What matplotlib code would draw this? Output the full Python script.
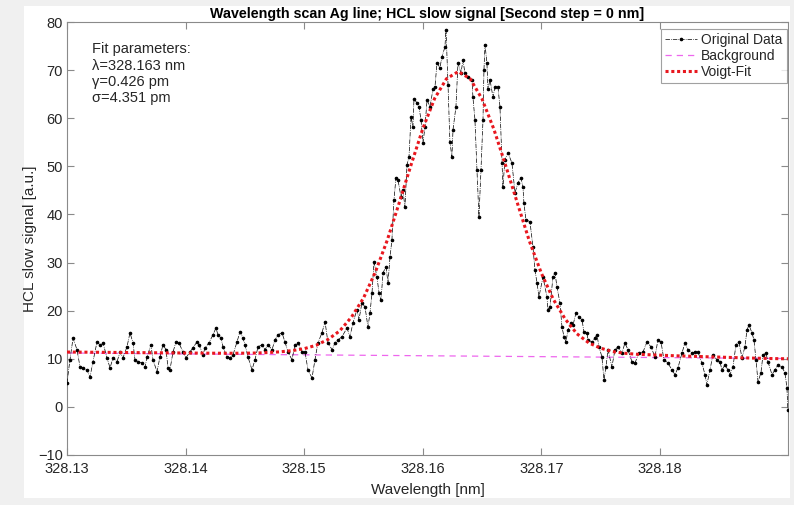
import numpy as np
import matplotlib
matplotlib.use("Agg")
import matplotlib.pyplot as plt
from matplotlib.patches import Rectangle

plt.rcParams['font.family'] = ['Liberation Sans', 'DejaVu Sans']

# ---------------- data ----------------
wavelength = [
    328.13000, 328.13025, 328.13051, 328.13084, 328.13110, 328.13135, 328.13169, 328.13194,
    328.13219, 328.13253, 328.13278, 328.13304, 328.13337, 328.13363, 328.13388, 328.13422,
    328.13447, 328.13472, 328.13506, 328.13531, 328.13557, 328.13573, 328.13599, 328.13632,
    328.13658, 328.13675, 328.13708, 328.13725, 328.13759, 328.13784, 328.13809, 328.13835,
    328.13852, 328.13868, 328.13894, 328.13919, 328.13944, 328.13978, 328.14003, 328.14037,
    328.14062, 328.14096, 328.14113, 328.14147, 328.14164, 328.14197, 328.14231, 328.14256,
    328.14273, 328.14299, 328.14315, 328.14349, 328.14374, 328.14400, 328.14433, 328.14459,
    328.14484, 328.14501, 328.14526, 328.14560, 328.14585, 328.14611, 328.14644, 328.14670,
    328.14695, 328.14729, 328.14754, 328.14779, 328.14813, 328.14838, 328.14864, 328.14897,
    328.14923, 328.14948, 328.14982, 328.15007, 328.15032, 328.15066, 328.15091, 328.15116,
    328.15150, 328.15176, 328.15201, 328.15235, 328.15260, 328.15285, 328.15319, 328.15361,
    328.15386, 328.15412, 328.15445, 328.15462, 328.15487, 328.15513, 328.15538, 328.15555,
    328.15572, 328.15589, 328.15614, 328.15631, 328.15648, 328.15665, 328.15690, 328.15707,
    328.15724, 328.15740, 328.15757, 328.15774, 328.15791, 328.15816, 328.15833, 328.15850,
    328.15867, 328.15884, 328.15901, 328.15917, 328.15926, 328.15951, 328.15968, 328.15985,
    328.16002, 328.16019, 328.16036, 328.16061, 328.16086, 328.16103, 328.16120, 328.16145,
    328.16162, 328.16187, 328.16196, 328.16213, 328.16229, 328.16246, 328.16255, 328.16280,
    328.16297, 328.16322, 328.16339, 328.16356, 328.16381, 328.16415, 328.16423, 328.16440,
    328.16457, 328.16474, 328.16491, 328.16508, 328.16516, 328.16525, 328.16541, 328.16550,
    328.16567, 328.16592, 328.16609, 328.16634, 328.16651, 328.16668, 328.16676, 328.16693,
    328.16719, 328.16752, 328.16778, 328.16803, 328.16828, 328.16845, 328.16853, 328.16870,
    328.16904, 328.16929, 328.16946, 328.16963, 328.16980, 328.17014, 328.17047, 328.17056,
    328.17073, 328.17098, 328.17115, 328.17132, 328.17157, 328.17174, 328.17191, 328.17208,
    328.17224, 328.17250, 328.17267, 328.17292, 328.17317, 328.17343, 328.17359, 328.17385,
    328.17393, 328.17427, 328.17452, 328.17469, 328.17486, 328.17511, 328.17528, 328.17545,
    328.17562, 328.17595, 328.17621, 328.17646, 328.17680, 328.17705, 328.17730, 328.17764,
    328.17789, 328.17823, 328.17857, 328.17891, 328.17924, 328.17958, 328.17983, 328.18009,
    328.18034, 328.18068, 328.18101, 328.18127, 328.18152, 328.18186, 328.18211, 328.18236,
    328.18270, 328.18295, 328.18321, 328.18354, 328.18380, 328.18396, 328.18422, 328.18447,
    328.18481, 328.18506, 328.18523, 328.18548, 328.18574, 328.18590, 328.18616, 328.18641,
    328.18666, 328.18692, 328.18717, 328.18734, 328.18751, 328.18776, 328.18793, 328.18810,
    328.18827, 328.18852, 328.18869, 328.18894, 328.18911, 328.18945, 328.18970, 328.18995,
    328.19029, 328.19054, 328.19071, 328.19079,
]
signal = [
    5.0, 9.8, 14.3, 11.9, 8.3, 8.1, 7.7, 6.2,
    9.4, 13.5, 12.9, 13.3, 10.2, 8.1, 10.2, 9.4,
    11.4, 10.2, 12.5, 15.4, 13.3, 9.8, 9.4, 9.1,
    8.3, 10.4, 12.9, 9.8, 7.3, 10.4, 12.9, 11.9,
    8.1, 7.7, 11.4, 13.5, 13.3, 11.4, 10.2, 11.4,
    12.3, 13.5, 12.9, 10.8, 12.3, 13.3, 15.0, 16.4,
    15.0, 14.3, 12.5, 10.4, 10.2, 10.8, 13.5, 15.6,
    14.3, 12.9, 10.4, 7.7, 9.8, 12.5, 12.9, 11.9,
    12.9, 11.9, 13.9, 15.0, 15.4, 13.5, 11.4, 9.8,
    12.9, 13.3, 11.4, 11.4, 7.7, 6.0, 9.8, 13.3,
    15.4, 17.7, 13.3, 11.9, 13.3, 13.9, 14.6, 16.4,
    14.6, 17.5, 20.2, 18.1, 21.6, 20.8, 16.6, 19.5,
    23.7, 30.1, 27.0, 23.7, 22.2, 27.9, 29.1, 25.8,
    31.2, 34.7, 43.0, 47.6, 47.2, 43.7, 45.0, 41.5,
    50.3, 52.0, 60.3, 58.2, 64.0, 63.2, 62.4, 59.7,
    54.9, 58.2, 63.8, 62.4, 66.0, 66.5, 71.5, 70.5,
    72.8, 74.8, 78.4, 67.0, 55.0, 52.0, 57.6, 62.4,
    71.5, 69.4, 72.0, 69.4, 68.6, 68.0, 64.4, 59.7,
    49.3, 39.5, 49.3, 59.7, 70.0, 75.3, 71.5, 66.0,
    68.0, 64.4, 66.5, 66.5, 62.4, 50.7, 45.7, 51.4,
    52.8, 50.7, 44.5, 46.6, 47.6, 45.7, 42.4, 38.9,
    38.5, 33.3, 28.5, 25.8, 22.9, 27.0, 22.9, 20.2,
    20.8, 27.0, 27.9, 24.9, 21.6, 16.6, 14.6, 13.5,
    16.0, 17.5, 17.0, 19.5, 18.7, 18.1, 15.6, 15.4,
    13.9, 13.5, 14.3, 15.0, 12.5, 10.4, 5.6, 8.3,
    11.9, 8.3, 11.9, 12.5, 11.2, 13.3, 11.9, 9.4,
    9.1, 11.2, 11.4, 13.5, 12.5, 10.4, 13.9, 13.5,
    9.8, 9.1, 7.7, 6.7, 8.1, 11.2, 13.3, 11.9,
    11.2, 11.4, 11.4, 9.1, 6.7, 4.6, 7.7, 10.8,
    9.8, 9.4, 7.7, 8.7, 7.7, 6.7, 8.3, 12.9,
    13.5, 10.2, 12.5, 16.0, 17.0, 15.4, 13.9, 9.8,
    5.2, 7.1, 10.8, 11.2, 9.4, 6.7, 7.7, 8.7,
    8.3, 7.1, 4.0, -0.6,
]

fit_start, fit_stop, fit_n = 328.130, 328.191, 62
voigt_fit = [
    11.4, 11.38, 11.36, 11.34, 11.32, 11.3, 11.28, 11.26, 11.24, 11.22,
    11.2, 11.18, 11.16, 11.15, 11.15, 11.16, 11.2, 11.3, 11.45, 11.7,
    12.1, 12.8, 14.0, 15.8, 18.7, 22.6, 28.0, 34.6, 42.3, 50.2,
    57.8, 64.1, 68.2, 69.7, 68.2, 64.0, 57.7, 50.1, 42.2, 34.4,
    27.8, 22.4, 18.3, 15.2, 13.3, 12.2, 11.5, 11.15, 10.95, 10.85,
    10.75, 10.65, 10.57, 10.5, 10.42, 10.35, 10.27, 10.2, 10.13, 10.07,
    10.02, 10.0,
]

bg_wavelength = [328.130, 328.1908]
bg_values = [11.2, 10.05]

x_ticks = [328.13, 328.14, 328.15, 328.16, 328.17, 328.18]
y_ticks = [-10, 0, 10, 20, 30, 40, 50, 60, 70, 80]

fit_text = "Fit parameters:\nλ=328.163 nm\nγ=0.426 pm\nσ=4.351 pm"

# ---------------- plot ----------------
W, H = 794, 505
fig = plt.figure(figsize=(W / 100, H / 100), dpi=100, facecolor='#f0f0f0')
fig.patches.append(Rectangle((24 / W, 1 - 498 / H), (790 - 24) / W, (498 - 6) / H,
                             transform=fig.transFigure, facecolor='white',
                             edgecolor='none', zorder=-10))

ax = fig.add_axes([67 / W, 1 - 455 / H, (788 - 67) / W, (455 - 22) / H])
ax.set_zorder(5)

ax.plot(wavelength, signal, color='black', linestyle='-.', linewidth=0.5,
        marker='.', markersize=3.2, label='Original Data', zorder=3)
ax.plot(bg_wavelength, bg_values, color='#ee66ee', linestyle=(0, (5, 4)),
        linewidth=0.9, label='Background', zorder=2)
fit_wl = np.linspace(fit_start, fit_stop, fit_n)
ax.plot(fit_wl, voigt_fit, color='#e8171e', linestyle=(0, (1, 0.9)),
        linewidth=2.2, label='Voigt-Fit', zorder=4)

ax.set_xlim(328.13, 328.1908)
ax.set_ylim(-10, 80)
ax.set_xticks(x_ticks)
ax.set_xticklabels([f"{t:.2f}" for t in x_ticks])
ax.set_yticks(y_ticks)

axcol = '#8a8a8a'
txtcol = '#262626'
for s in ax.spines.values():
    s.set_color(axcol)
    s.set_linewidth(0.8)
ax.tick_params(direction='in', top=True, right=True, length=5, width=0.8,
               color=axcol, labelcolor=txtcol, labelsize=10.5)
ax.tick_params(axis='y', pad=3)
ax.tick_params(axis='x', pad=5)

ax.set_xlabel('Wavelength [nm]', fontsize=11, color=txtcol, labelpad=5)
ax.set_ylabel('HCL slow signal [a.u.]', fontsize=11, color=txtcol)
ax.yaxis.set_label_coords(-0.041, 0.5)
ax.set_title('Wavelength scan Ag line; HCL slow signal [Second step = 0 nm]',
             fontsize=10.3, fontweight='bold', color='black', pad=3)

ax.text(0.034, 0.953, fit_text, transform=ax.transAxes, fontsize=10.5,
        color=txtcol, va='top', ha='left', linespacing=1.2)

leg = ax.legend(loc='upper right', bbox_to_anchor=(1.0, 0.988), fontsize=10,
                frameon=True, fancybox=False, handlelength=2.3, handletextpad=0.3,
                borderpad=0.3, labelspacing=0.15, borderaxespad=0.1)
leg.get_frame().set_edgecolor('#8a8a8a')
leg.get_frame().set_linewidth(0.8)
for t in leg.get_texts():
    t.set_color(txtcol)

fig.savefig('out.png', dpi=100, facecolor=fig.get_facecolor())
